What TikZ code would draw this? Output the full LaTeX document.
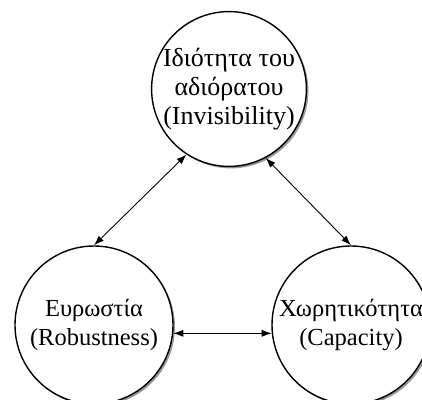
\documentclass[tikz,border=0pt]{standalone}
\usepackage{fontspec}
\setmainfont{Liberation Serif}
\usetikzlibrary{arrows.meta,shadows}
\tikzset{
  bubble/.style={circle, draw=black, line width=1.4pt, fill=white, inner sep=0pt,
    minimum size=#1, align=center, font=\fontsize{24.5}{29}\selectfont,
    drop shadow={shadow xshift=2pt, shadow yshift=-2pt, fill=black, opacity=0.4}},
  link/.style={{Latex[length=10pt,width=7pt]}-{Latex[length=10pt,width=7pt]}, line width=0.9pt}
}
\begin{document}
\begin{tikzpicture}[x=1pt,y=1pt]
\clip (0,0) rectangle (422,399);
\fill[white] (0,0) rectangle (422,399);
\node[bubble=153pt, font=\fontsize{26}{29}\selectfont] (top) at (229,310) {Ιδιότητα του\\αδιόρατου\\(Invisibility)};
\node[bubble=158pt] (bl) at (94,74) {Ευρωστία\\(Robustness)};
\node[bubble=158pt] (br) at (351,74) {Χωρητικότητα\\(Capacity)};
\draw[link] (bl.90) -- (top.237);
\draw[link] (top.298) -- (br.90);
\draw[link] (bl.-6) -- (br.186);
\end{tikzpicture}
\end{document}
